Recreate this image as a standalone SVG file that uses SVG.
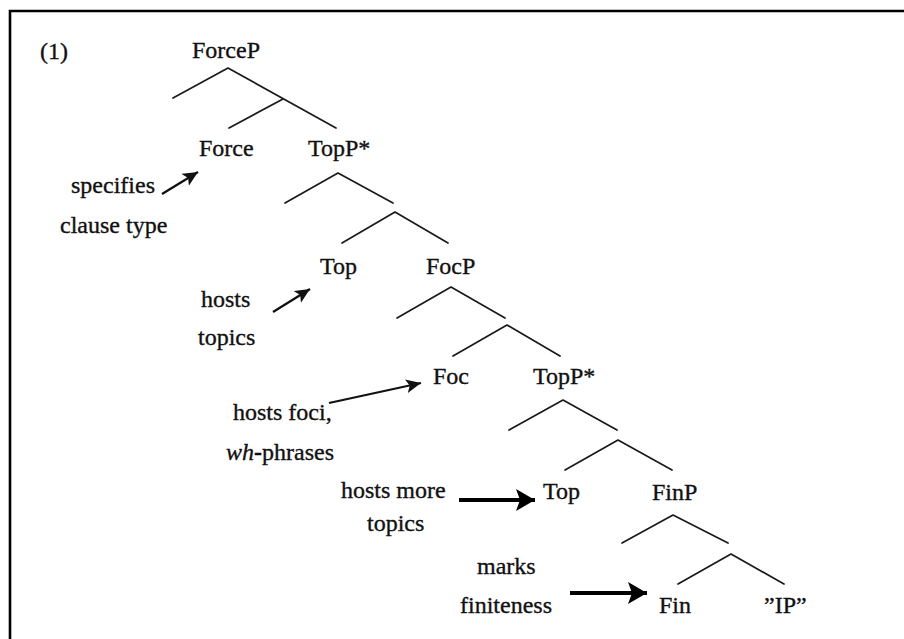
<svg xmlns="http://www.w3.org/2000/svg" width="904" height="639" viewBox="0 0 904 639">
  <style>
    text { font-family: "Liberation Serif", "Times New Roman", serif; font-size: 24px; fill: #111; stroke: #111; stroke-width: 0.35; }
    .branch { stroke: #1a1a1a; stroke-width: 1.7; fill: none; stroke-linecap: round; stroke-linejoin: round; }
    .frame { stroke: #000; stroke-width: 2.6; fill: none; }
    .arr-thin { stroke: #111; stroke-width: 2.3; fill: none; }
    .arr-thick { stroke: #000; stroke-width: 4; fill: none; }
  </style>
  <defs>
    <marker id="head-thin" markerUnits="userSpaceOnUse" markerWidth="16" markerHeight="14" refX="15" refY="7" orient="auto">
      <path d="M0,0 L15,7 L0,14 L3.5,7 Z" fill="#111"/>
    </marker>
    <marker id="head-thick" markerUnits="userSpaceOnUse" markerWidth="20" markerHeight="22" refX="19" refY="11" orient="auto">
      <path d="M0,0 L19,11 L0,22 L4,11 Z" fill="#000"/>
    </marker>
  </defs>

  <!-- frame: top and left rules only -->
  <path class="frame" d="M10,639 L10,11 L904,11"/>

  <text id="example-number" x="40" y="59">(1)</text>

  <!-- tree branches -->
  <g id="branches">
    <!-- ForceP -->
    <path class="branch" d="M173,98 L228,68 L336,128"/>
    <path class="branch" d="M229,128 L283,99"/>
    <!-- TopP* -->
    <path class="branch" d="M285,203 L338,173 L393,203"/>
    <path class="branch" d="M342,243 L395,212 L448,243"/>
    <!-- FocP -->
    <path class="branch" d="M397,318 L451,287 L505,318"/>
    <path class="branch" d="M453,356 L507,325 L560,356"/>
    <!-- TopP* (lower) -->
    <path class="branch" d="M509,430 L563,400 L617,430"/>
    <path class="branch" d="M565,470 L618,440 L672,470"/>
    <!-- FinP -->
    <path class="branch" d="M622,543 L673,515 L728,543"/>
    <path class="branch" d="M678,584 L731,554 L784,584"/>
  </g>

  <!-- tree nodes -->
  <g id="node-forcep"><text x="192" y="58">ForceP</text></g>
  <g id="node-force"><text x="199" y="156">Force</text></g>
  <g id="node-topp1"><text x="308" y="156">TopP*</text></g>
  <g id="node-top1"><text x="320" y="274">Top</text></g>
  <g id="node-focp"><text x="426" y="274">FocP</text></g>
  <g id="node-foc"><text x="433" y="384">Foc</text></g>
  <g id="node-topp2"><text x="533" y="384">TopP*</text></g>
  <g id="node-top2"><text x="543" y="499">Top</text></g>
  <g id="node-finp"><text x="652" y="500">FinP</text></g>
  <g id="node-fin"><text x="659" y="613">Fin</text></g>
  <g id="node-ip"><text x="764" y="613">”IP”</text></g>

  <!-- annotations -->
  <g id="note-force">
    <text x="71" y="193">specifies</text>
    <text x="60" y="233">clause type</text>
  </g>
  <g id="note-top1">
    <text x="201" y="307">hosts</text>
    <text x="198" y="345">topics</text>
  </g>
  <g id="note-foc">
    <text x="233" y="420">hosts foci,</text>
    <text x="226" y="460"><tspan font-style="italic">wh</tspan><tspan font-weight="bold">-</tspan>phrases</text>
  </g>
  <g id="note-top2">
    <text x="341" y="498">hosts more</text>
    <text x="367" y="531">topics</text>
  </g>
  <g id="note-fin">
    <text x="477" y="574">marks</text>
    <text x="460" y="613">finiteness</text>
  </g>

  <!-- annotation arrows -->
  <g id="arrows">
    <line class="arr-thin" x1="162" y1="194" x2="198" y2="172" marker-end="url(#head-thin)"/>
    <line class="arr-thin" x1="273" y1="312" x2="310" y2="289" marker-end="url(#head-thin)"/>
    <line class="arr-thin" x1="329" y1="403" x2="421" y2="383" marker-end="url(#head-thin)"/>
    <line class="arr-thick" x1="459" y1="500" x2="535" y2="500" marker-end="url(#head-thick)"/>
    <line class="arr-thick" x1="570" y1="593" x2="647" y2="593" marker-end="url(#head-thick)"/>
  </g>
</svg>
